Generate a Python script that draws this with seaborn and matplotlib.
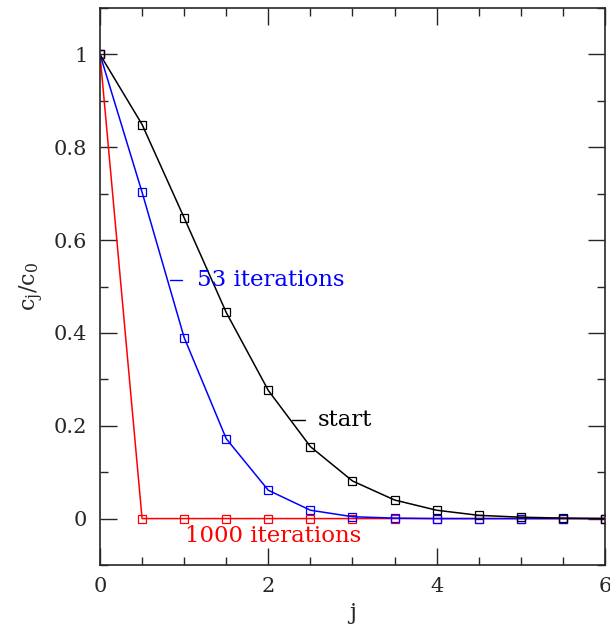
import matplotlib
matplotlib.use("Agg")
import matplotlib.pyplot as plt
from matplotlib.ticker import MultipleLocator, FuncFormatter
import seaborn as sns
import pandas as pd

j = [0, 0.5, 1, 1.5, 2, 2.5, 3, 3.5, 4, 4.5, 5, 5.5, 6]
start = [1.0, 0.849, 0.648, 0.444, 0.276, 0.155, 0.081, 0.040, 0.018, 0.007, 0.003, 0.001, 0.0]
it53 = [1.0, 0.703, 0.390, 0.172, 0.061, 0.018, 0.004, 0.001, 0.0, 0.0, 0.0, 0.0, 0.0]
it1000 = [1.0, 0.0, 0.0, 0.0, 0.0, 0.0, 0.0, 0.0, 0.0, 0.0, 0.0, 0.0, 0.0]

sns.set_style("ticks")
plt.rcParams['font.family'] = ['DejaVu Serif']
plt.rcParams['mathtext.fontset'] = 'dejavuserif'

fig = plt.figure(figsize=(6.10, 6.26), dpi=100)
ax = fig.add_axes([100/610, 61/626, 505/610, 557/626])

for vals, col in [(it1000, 'red'), (it53, 'blue'), (start, 'black')]:
    df = pd.DataFrame({'j': j, 'c': vals})
    sns.lineplot(data=df, x='j', y='c', ax=ax, color=col, lw=1.1,
                 marker='s', markersize=5.5, markerfacecolor='none',
                 markeredgecolor=col, markeredgewidth=0.9)

ax.set_xlim(0, 6)
ax.set_ylim(-0.1, 1.1)
ax.xaxis.set_major_locator(MultipleLocator(2))
ax.xaxis.set_minor_locator(MultipleLocator(0.5))
ax.yaxis.set_major_locator(MultipleLocator(0.2))
ax.yaxis.set_minor_locator(MultipleLocator(0.1))
fmt = FuncFormatter(lambda v, p: ('%g' % round(v, 6)))
ax.xaxis.set_major_formatter(fmt)
ax.yaxis.set_major_formatter(fmt)
ax.tick_params(which='both', direction='in', top=True, right=True, labelsize=15, width=1)
ax.tick_params(which='major', length=12, pad=9)
ax.tick_params(which='minor', length=6)
for s in ax.spines.values():
    s.set_linewidth(1.2)
    s.set_visible(True)

ax.set_xlabel('j', fontsize=16)
ax.set_ylabel(r'$\mathrm{c_j/c_0}$', fontsize=16, labelpad=6)

ax.plot([0.83, 0.97], [0.515, 0.515], color='blue', lw=1)
ax.text(1.15, 0.515, '53 iterations', color='blue', fontsize=16.5, va='center')
ax.plot([2.28, 2.44], [0.213, 0.213], color='black', lw=1)
ax.text(2.59, 0.213, 'start', color='black', fontsize=16.5, va='center')
ax.text(1.01, -0.037, '1000 iterations', color='red', fontsize=16.5, va='center')

fig.savefig('out.png', dpi=100)
